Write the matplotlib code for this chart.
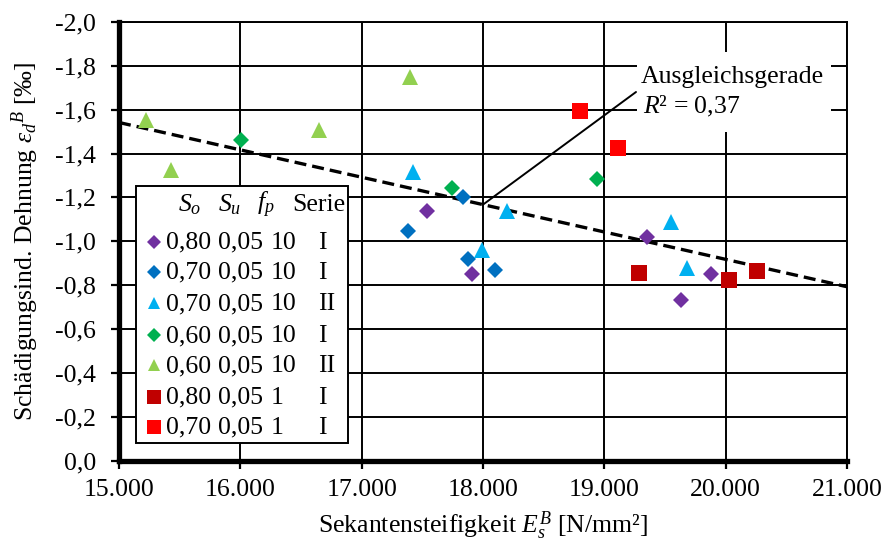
import numpy as np
import matplotlib
matplotlib.use("Agg")
import matplotlib.pyplot as plt
from matplotlib.patches import Rectangle
from matplotlib.ticker import FixedLocator, FuncFormatter

plt.rcParams["font.family"] = ["Liberation Serif", "DejaVu Serif"]
plt.rcParams["mathtext.fontset"] = "custom"
plt.rcParams["mathtext.rm"] = "Liberation Serif"
plt.rcParams["mathtext.it"] = "Liberation Serif:italic"
plt.rcParams["mathtext.bf"] = "Liberation Serif:bold"
plt.rcParams["axes.unicode_minus"] = False

FS = 18.5

# Secant stiffness E_s^B [N/mm²] and damage-induced strain eps_d^B [‰] per test series
s080_f10_I_x = [17540, 17910, 19348, 19635, 19882]
s080_f10_I_y = [-1.136, -0.850, -1.018, -0.732, -0.850]
s070_f10_I_x = [17383, 17836, 17877, 18098]
s070_f10_I_y = [-1.045, -1.200, -0.918, -0.868]
s070_f10_II_x = [17425, 18197, 17992, 19553, 19685]
s070_f10_II_y = [-1.318, -1.136, -0.959, -1.090, -0.877]
s060_f10_I_x = [16003, 17745, 18937]
s060_f10_I_y = [-1.464, -1.245, -1.282]
s060_f10_II_x = [15222, 15427, 16652, 17400]
s060_f10_II_y = [-1.555, -1.327, -1.509, -1.750]
s080_f1_I_x = [19282, 20030, 20260]
s080_f1_I_y = [-0.855, -0.823, -0.864]
s070_f1_I_x = [18797, 19110]
s070_f1_I_y = [-1.595, -1.427]

legend_So = ["0,80", "0,70", "0,70", "0,60", "0,60", "0,80", "0,70"]
legend_Su = ["0,05"] * 7
legend_fp = ["10", "10", "10", "10", "10", "1", "1"]
legend_serie = ["I", "I", "II", "I", "II", "I", "I"]

x_ticks = [15000, 16000, 17000, 18000, 19000, 20000, 21000]
y_ticks = [0.0, -0.2, -0.4, -0.6, -0.8, -1.0, -1.2, -1.4, -1.6, -1.8, -2.0]
r2_label = "0,37"

series = [
    (s080_f10_I_x, s080_f10_I_y, "D", "#7030A0", 7.8),
    (s070_f10_I_x, s070_f10_I_y, "D", "#0070C0", 7.8),
    (s070_f10_II_x, s070_f10_II_y, "^", "#00B0F0", 11.0),
    (s060_f10_I_x, s060_f10_I_y, "D", "#00B050", 7.8),
    (s060_f10_II_x, s060_f10_II_y, "^", "#92D050", 11.0),
    (s080_f1_I_x, s080_f1_I_y, "s", "#C00000", 12.0),
    (s070_f1_I_x, s070_f1_I_y, "s", "#FF0000", 12.0),
]

fig = plt.figure(figsize=(8.86, 5.41), dpi=100)
L, R, B, T = 119, 847, 460.5, 22.0
W, H = 886, 541
ax = fig.add_axes([L / W, 1 - B / H, (R - L) / W, (B - T) / H])

ax.set_xlim(15000, 21000)
ax.set_ylim(0, -2.0)
ax.xaxis.set_major_locator(FixedLocator(x_ticks))
ax.yaxis.set_major_locator(FixedLocator(y_ticks))
ax.xaxis.set_major_formatter(FuncFormatter(lambda v, p: f"{int(round(v)):,}".replace(",", ".")))
ax.yaxis.set_major_formatter(FuncFormatter(lambda v, p: ("0,0" if abs(v) < 1e-9 else f"{v:.1f}".replace(".", ","))))
ax.tick_params(axis="both", labelsize=FS, direction="out", length=5.5, width=1.6, color="black")
ax.tick_params(axis="y", pad=11)
ax.tick_params(axis="x", pad=8)

ax.grid(True, color="black", lw=1.4, zorder=0)
ax.set_axisbelow(True)
for side in ("left", "bottom"):
    ax.spines[side].set_linewidth(3.8)
for side in ("top", "right"):
    ax.spines[side].set_linewidth(1.4)

for xs, ys, mk, col, ms in series:
    ax.plot(xs, ys, ls="none", marker=mk, color=col, ms=ms, mec=col, mew=0, zorder=4)

# least-squares line through all points
all_x = np.concatenate([np.asarray(s[0], float) for s in series])
all_y = np.concatenate([np.asarray(s[1], float) for s in series])
slope, intercept = np.polyfit(all_x, all_y, 1)
xl = np.array([15000, 21000], float)
ax.plot(xl, slope * xl + intercept, color="black", lw=2.4, dashes=(3.6, 1.8), zorder=3)

def ax_frac(px, py):
    return ((px - L) / (R - L), (B - py) / (B - T))

# label for the fitted line
x0 = 18000
ax.annotate("", xy=(x0, slope * x0 + intercept), xycoords="data",
            xytext=ax_frac(636, 92), textcoords="axes fraction",
            arrowprops=dict(arrowstyle="-", lw=1.4, color="black", shrinkA=0, shrinkB=0), zorder=5)
bx0, by0 = ax_frac(637, 132)
bx1, by1 = ax_frac(831, 52)
ax.add_patch(Rectangle((bx0, by0), bx1 - bx0, by1 - by0, transform=ax.transAxes,
                       facecolor="white", edgecolor="none", zorder=2))
ax.text(*ax_frac(641, 77), "Ausgleichsgerade", transform=ax.transAxes, fontsize=FS,
        ha="left", va="center", zorder=6)
ax.text(*ax_frac(643, 106), r"$R$² = " + r2_label, transform=ax.transAxes, fontsize=FS,
        ha="left", va="center", zorder=6)

# legend table
lx0, ly0 = ax_frac(136, 443)
lx1, ly1 = ax_frac(348, 186)
ax.add_patch(Rectangle((lx0, ly0), lx1 - lx0, ly1 - ly0, transform=ax.transAxes,
                       facecolor="white", edgecolor="black", lw=1.4, zorder=7))
hy = 205
for txt, px in [(r"$S_o$", 178), (r"$S_u$", 218), (r"$f_p$", 257), ("Serie", 292)]:
    ax.text(*ax_frac(px, hy), txt, transform=ax.transAxes, fontsize=FS,
            ha="left", va="center", zorder=8)
row_y = [241.7, 271.7, 303.3, 335, 365, 396.7, 426.7]
for i, (xs, ys, mk, col, ms) in enumerate(series):
    py = row_y[i]
    mx, my = ax_frac(154, py)
    ax.plot([mx], [my], ls="none", marker=mk, color=col, ms=ms * 0.85, mew=0,
            transform=ax.transAxes, zorder=9, clip_on=False)
    for txt, px in [(legend_So[i], 166), (legend_Su[i], 218), (legend_fp[i], 271), (legend_serie[i], 318)]:
        ax.text(*ax_frac(px, py + 1), txt, transform=ax.transAxes, fontsize=FS,
                ha="left", va="center", zorder=8)

ax.set_xlabel(r"Sekantensteifigkeit $E_s^B$ [N/mm²]", fontsize=FS, labelpad=6)
ax.set_ylabel(r"Schädigungsind. Dehnung $\varepsilon_d{}^B$ [‰]", fontsize=FS, labelpad=10)

fig.savefig("out.png", dpi=100)
